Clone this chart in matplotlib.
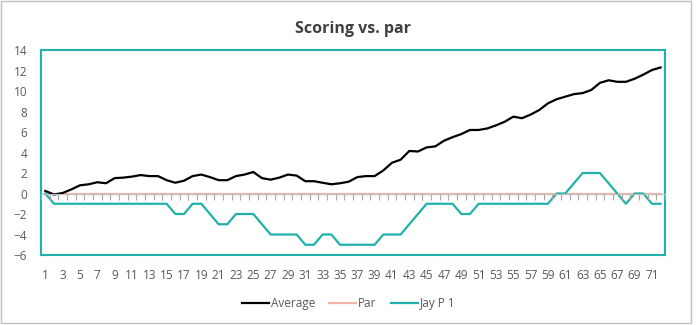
import matplotlib.pyplot as plt
import matplotlib.patches as patches
import numpy as np

# Données ---------
holes = np.arange(1, 73)

average = [0.25, -0.1, 0.05, 0.4, 0.8, 0.9, 1.1, 1.0, 1.5, 1.55,
           1.65, 1.8, 1.7, 1.7, 1.3, 1.05, 1.25, 1.7, 1.85, 1.6,
           1.3, 1.3, 1.7, 1.85, 2.1, 1.5, 1.35, 1.55, 1.85, 1.75,
           1.2, 1.2, 1.05, 0.9, 1.0, 1.15, 1.6, 1.7, 1.7, 2.25,
           3.0, 3.3, 4.15, 4.1, 4.5, 4.6, 5.15, 5.5, 5.8, 6.2,
           6.2, 6.35, 6.65, 7.0, 7.5, 7.35, 7.7, 8.15, 8.8, 9.2,
           9.45, 9.7, 9.8, 10.1, 10.8, 11.05, 10.9, 10.9, 11.2, 11.6,
           12.05, 12.3]

par = [0] * 72

jay = [0, -1, -1, -1, -1, -1, -1, -1, -1, -1,
       -1, -1, -1, -1, -1, -2, -2, -1, -1, -2,
       -3, -3, -2, -2, -2, -3, -4, -4, -4, -4,
       -5, -5, -4, -4, -5, -5, -5, -5, -5, -4,
       -4, -4, -3, -2, -1, -1, -1, -1, -2, -2,
       -1, -1, -1, -1, -1, -1, -1, -1, -1, 0,
       0, 1, 2, 2, 2, 1, 0, -1, 0, 0,
       -1, -1]

teal = '#20B2AA'
texte = '#595959'

plt.rcParams['font.family'] = ['Open Sans', 'DejaVu Sans']

fig = plt.figure(figsize=(6.97, 3.25), dpi=100)
ax = fig.add_axes([0.0588, 0.2154, 0.8952, 0.6306])

# Axe des catégories qui croise à 0 (dessiné en dessous)
ax2 = ax.twiny()
ax2.set_xlim(0.5, 72.5)
for cote in ['top', 'left', 'right']:
    ax2.spines[cote].set_visible(False)
ax2.spines['bottom'].set_position(('data', 0))
ax2.spines['bottom'].set_color('#BFBFBF')
ax2.xaxis.set_ticks_position('bottom')
ax2.set_xticks(np.arange(0.5, 73, 1))
ax2.tick_params(axis='x', which='major', direction='out', length=4.5, width=0.8,
                color='#A6A6A6', labelbottom=False, labeltop=False)

# Graphique : lignes
ax.plot(holes, par, color='#F4B6A6', lw=1.6, label='Par', zorder=3)
ax.plot(holes, average, color='black', lw=1.6, label='Average', zorder=4)
ax.plot(holes, jay, color=teal, lw=1.6, label='Jay P 1', zorder=4)

ax.set_xlim(0.5, 72.5)
ax.set_ylim(-6, 14)
ax.set_yticks(np.arange(-6, 15, 2))
ax.set_xticks(holes[::2])
ax.tick_params(axis='both', length=0, labelsize=8.5, labelcolor=texte)
ax.tick_params(axis='y', pad=10)
ax.tick_params(axis='x', pad=10)
for s in ax.spines.values():
    s.set_color(teal)
    s.set_linewidth(1.5)

ax.set_title('Scoring vs. par', fontsize=11.5, fontweight='bold', color='#404040', pad=12)

# Légende
h, l = ax.get_legend_handles_labels()
order = [1, 0, 2]
fig.legend([h[i] for i in order], [l[i] for i in order], loc='center',
           bbox_to_anchor=(0.5, 0.066), ncol=3, frameon=False, fontsize=8.5,
           labelcolor=texte, handlelength=2.3, handletextpad=0.15, columnspacing=1.2)

# Cadre du graphique
fig.patches.append(patches.Rectangle((0.001, 0.006), 0.991, 0.99, transform=fig.transFigure,
                                     fill=False, edgecolor='#BFBFBF', lw=1))

plt.savefig('out.png', dpi=100)
